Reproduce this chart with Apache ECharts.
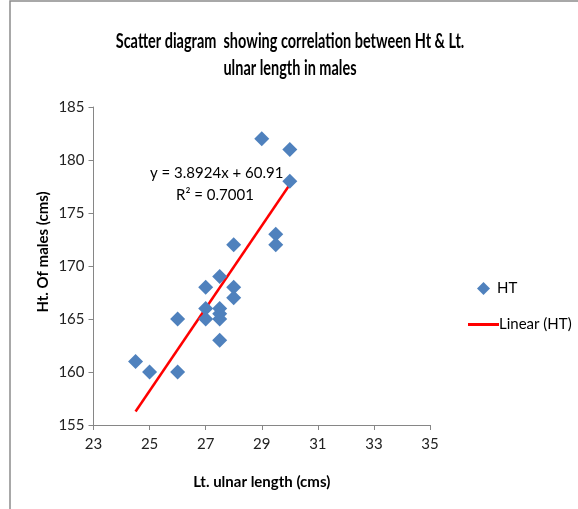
<!DOCTYPE html>
<html>
<head>
<meta charset="utf-8">
<script src="https://cdn.jsdelivr.net/npm/echarts@6/dist/echarts.min.js"></script>
<style>
  html, body { margin: 0; padding: 0; background: #fff; }
  #main { width: 578px; height: 509px; }
</style>
</head>
<body>
<div id="main"></div>
<script>
// ulnar length (cms) vs height (cms)
const ulna = [24.5, 25, 26, 26, 27, 27, 27, 27.5, 27.5, 27.5, 27.5, 27.5, 28, 28, 28, 29, 29.5, 29.5, 30, 30]
const height = [161, 160, 160, 165, 168, 166, 165, 169, 166, 165.5, 165, 163, 172, 168, 167, 182, 173, 172, 181, 178]
// trendline coefficients shown on the chart
const slope = 3.8924
const intercept = 60.91
const r2 = '0.7001'

const points = ulna.map((x, i) => [x, height[i]])
const xMin = Math.min(...ulna)
const xMax = Math.max(...ulna)
const trend = [[xMin, slope * xMin + intercept], [xMax, slope * xMax + intercept]]

const font = 'Lato, "Open Sans", sans-serif'
const titleLines = ['Scatter diagram  showing correlation between Ht & Lt.', 'ulnar length in males']

const chart = echarts.init(document.getElementById('main'))
chart.setOption({
  animation: false,
  textStyle: { fontFamily: font },
  grid: { left: 93.5, right: 148, top: 107, bottom: 84 },
  // two legends so the diamond keeps its shape and the line gets a long swatch
  legend: [
    {
      orient: 'vertical',
      left: 472,
      top: 276,
      itemWidth: 13,
      itemHeight: 13,
      textStyle: { fontFamily: font, fontSize: 15, color: '#000', padding: [0, 0, 0, 2] },
      data: [{ name: 'HT', icon: 'diamond' }]
    },
    {
      orient: 'vertical',
      left: 463,
      top: 312,
      itemWidth: 31,
      itemHeight: 3,
      textStyle: { fontFamily: font, fontSize: 15, color: '#000', padding: [0, 0, 0, -5] },
      data: [{ name: 'Linear (HT)', icon: 'rect' }]
    }
  ],
  xAxis: {
    type: 'value',
    min: 23, max: 35, interval: 2,
    name: 'Lt. ulnar length (cms)',
    nameLocation: 'middle',
    nameGap: 50,
    nameTextStyle: { fontFamily: font, fontSize: 15, fontWeight: 'bold', color: '#000' },
    axisLine: { lineStyle: { color: '#868686' } },
    axisTick: { show: true, length: 5, lineStyle: { color: '#868686' } },
    axisLabel: { fontFamily: font, fontSize: 15, color: '#222', margin: 12 },
    splitLine: { show: false }
  },
  yAxis: {
    type: 'value',
    min: 155, max: 185, interval: 5,
    axisLine: { show: true, lineStyle: { color: '#868686' } },
    axisTick: { show: true, length: 5, lineStyle: { color: '#868686' } },
    axisLabel: { fontFamily: font, fontSize: 15, color: '#222', margin: 9 },
    splitLine: { show: false }
  },
  series: [
    {
      name: 'HT',
      type: 'scatter',
      symbol: 'diamond',
      symbolSize: 15,
      itemStyle: { color: '#4F81BD', opacity: 1 },
      data: points,
      z: 3
    },
    {
      name: 'Linear (HT)',
      type: 'line',
      symbol: 'none',
      lineStyle: { color: '#FF0000', width: 2.5 },
      itemStyle: { color: '#FF0000' },
      data: trend,
      z: 2
    }
  ],
  graphic: [
    {
      type: 'rect',
      shape: { x: 10, y: 1, width: 620, height: 560 },
      style: { fill: 'none', stroke: '#8c8c8c', lineWidth: 1.5 },
      silent: true
    },
    // title, narrowed to look like the condensed original
    {
      type: 'text', x: 290, y: 42, scaleX: 0.725,
      style: { text: titleLines[0], font: 'bold 20px ' + font, fill: '#000', align: 'center', verticalAlign: 'middle' }
    },
    {
      type: 'text', x: 290, y: 69, scaleX: 0.725,
      style: { text: titleLines[1], font: 'bold 20px ' + font, fill: '#000', align: 'center', verticalAlign: 'middle' }
    },
    {
      type: 'text', x: 43, y: 252, rotation: Math.PI / 2,
      style: { text: 'Ht. Of males (cms)', font: 'bold 15px ' + font, fill: '#000', align: 'center', verticalAlign: 'middle' }
    },
    {
      type: 'text',
      left: 150,
      top: 166,
      style: { text: 'y = 3.8924x + 60.91', font: '15px ' + font, fill: '#000' }
    },
    {
      type: 'text',
      left: 176,
      top: 188,
      style: { text: 'R² = ' + r2, font: '15px ' + font, fill: '#000' }
    }
  ]
})
</script>
</body>
</html>
